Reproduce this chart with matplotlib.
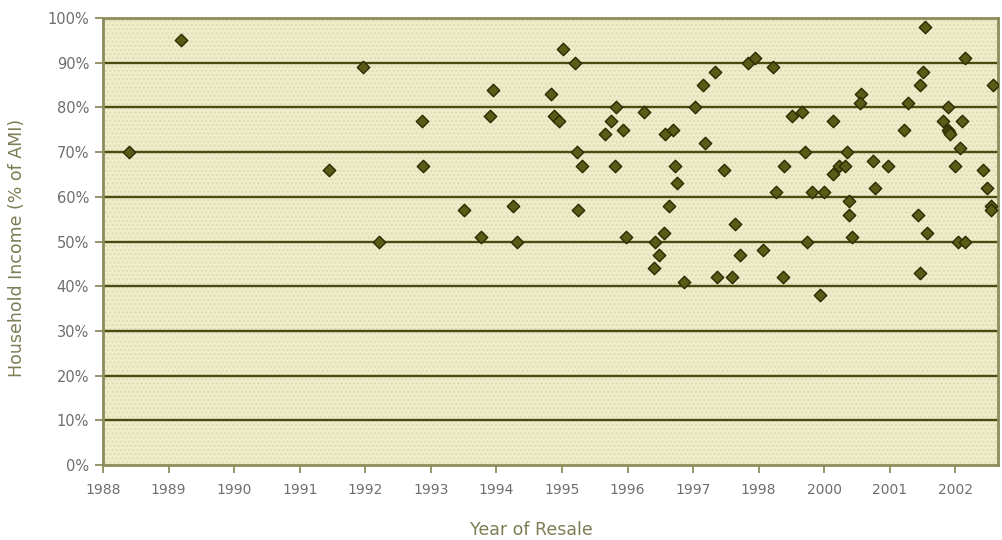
import matplotlib
matplotlib.use("Agg")
import matplotlib.pyplot as plt
from matplotlib.ticker import FixedLocator, FuncFormatter

# x positions on the category-style axis (ticks labelled 1988..1998, 2000, 2001, 2002)
resale_pos = [
    1988.40, 1989.19, 1991.45, 1991.97, 1992.21, 1992.87, 1992.88, 1993.50, 1993.77, 1993.90,
    1993.95, 1994.26, 1994.32, 1994.84, 1994.88, 1994.95, 1995.02, 1995.20, 1995.23, 1995.30,
    1995.24, 1995.65, 1995.75, 1995.83, 1995.81, 1995.93, 1995.98, 1996.25, 1996.42, 1996.41,
    1996.48, 1996.55, 1996.57, 1996.69, 1996.63, 1996.72, 1996.76, 1996.86, 1997.03, 1997.15,
    1997.18, 1997.34, 1997.37, 1997.47, 1997.60, 1997.64, 1997.71, 1997.84, 1997.95, 1998.07,
    1998.22, 1998.27, 1998.37, 1998.38, 1998.51, 1998.66, 1998.71, 1998.73, 1998.81, 1998.93,
    1998.99, 1999.14, 1999.13, 1999.22, 1999.31, 1999.35, 1999.37, 1999.38, 1999.42, 1999.56,
    1999.55, 1999.74, 1999.77, 1999.97, 2000.21, 2000.27, 2000.43, 2000.46, 2000.46, 2000.50,
    2000.54, 2000.57, 2000.81, 2000.88, 2000.89, 2000.91, 2000.92, 2000.99, 2001.04, 2001.07,
    2001.10, 2001.14, 2001.15, 2001.42, 2001.48, 2001.54, 2001.54, 2001.57,
]
income_pct = [
    70, 95, 66, 89, 50, 77, 67, 57, 51, 78,
    84, 58, 50, 83, 78, 77, 93, 90, 70, 67,
    57, 74, 77, 80, 67, 75, 51, 79, 50, 44,
    47, 52, 74, 75, 58, 67, 63, 41, 80, 85,
    72, 88, 42, 66, 42, 54, 47, 90, 91, 48,
    89, 61, 42, 67, 78, 79, 70, 50, 61, 38,
    61, 77, 65, 67, 67, 70, 59, 56, 51, 83,
    81, 68, 62, 67, 75, 81, 56, 43, 85, 88,
    98, 52, 77, 80, 75, 74.5, 74, 67, 50, 71,
    77, 50, 91, 66, 62, 58, 57, 85,
]

tick_pos = list(range(1988, 2002))
tick_labels = ["1988", "1989", "1990", "1991", "1992", "1993", "1994", "1995",
               "1996", "1997", "1998", "2000", "2001", "2002"]
y_ticks = list(range(0, 101, 10))

tick_text_col = "#6e6e6e"
title_col = "#7c7c55"
grid_col = "#4b4b12"
spine_col = "#8c8c5c"

fig = plt.figure(figsize=(10.02, 5.40), dpi=100)
ax = fig.add_axes([103 / 1002, 1 - 465 / 540, (998 - 103) / 1002, (465 - 18) / 540])
ax.set_facecolor("#eeedc8")
ax.patch.set_hatch("....")
ax.patch.set_edgecolor("#dcdcbc")

ax.set_xlim(1988, 2001.65)
ax.set_ylim(0, 100)

for yv in y_ticks[1:-1]:
    ax.axhline(yv, color=grid_col, lw=1.7, zorder=1)

ax.scatter(resale_pos, income_pct, marker="D", s=40, facecolor="#5b5b18",
           edgecolor="#2b2b00", linewidths=1.0, zorder=3)

ax.xaxis.set_major_locator(FixedLocator(tick_pos))
ax.set_xticklabels(tick_labels)
ax.yaxis.set_major_locator(FixedLocator(y_ticks))
ax.yaxis.set_major_formatter(FuncFormatter(lambda v, p: f"{int(v)}%"))

ax.tick_params(axis="both", colors=spine_col, labelcolor=tick_text_col,
               direction="out", length=6, width=1.3)
ax.tick_params(axis="x", pad=7, labelsize=10)
ax.tick_params(axis="y", pad=4, labelsize=10.5)

for side in ["left", "bottom", "top", "right"]:
    ax.spines[side].set_color(spine_col)
    ax.spines[side].set_linewidth(2.0)

fig.text(531 / 1002, 1 - 530 / 540, "Year of Resale", color=title_col,
         fontsize=12.5, ha="center", va="center")
fig.text(17 / 1002, 1 - 248 / 540, "Household Income (% of AMI)", color=title_col,
         fontsize=12.5, ha="center", va="center", rotation=90)

fig.savefig("out.png", dpi=100)
